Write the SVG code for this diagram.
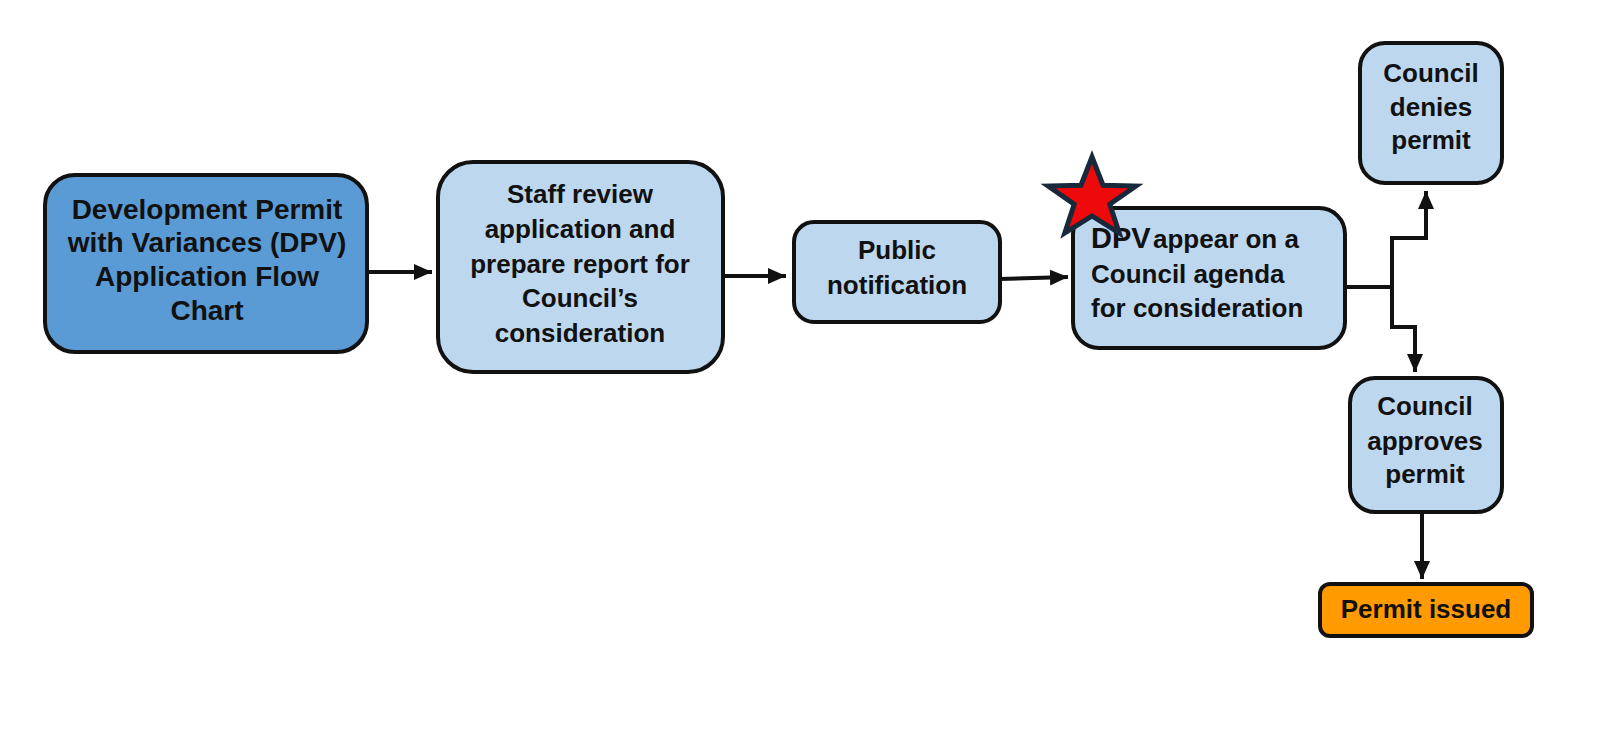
<svg xmlns="http://www.w3.org/2000/svg" width="1600" height="733" viewBox="0 0 1600 733">
<defs>
<style>
.box{fill:#bdd7ee;stroke:#111;stroke-width:4}
.main{fill:#5b9bd5;stroke:#111;stroke-width:4}
.orange{fill:#ff9a00;stroke:#111;stroke-width:4}
text{font-family:"Liberation Sans",Arial,sans-serif;font-weight:bold;fill:#111;font-size:26px}
.c{text-anchor:middle}
.conn{fill:none;stroke:#111;stroke-width:4}
</style>
<marker id="ah" markerUnits="userSpaceOnUse" markerWidth="20" markerHeight="18" refX="18" refY="9" orient="auto">
<path d="M0,1 L18,9 L0,17 z" fill="#111"/>
</marker>
</defs>
<rect width="1600" height="733" fill="#fff"/>
<g id="connectors">
<line class="conn" x1="367" y1="272" x2="432" y2="272" marker-end="url(#ah)"/>
<line class="conn" x1="723" y1="276" x2="786" y2="276" marker-end="url(#ah)"/>
<line class="conn" x1="1000" y1="279" x2="1068" y2="277" marker-end="url(#ah)"/>
<path class="conn" d="M1345,287 H1392 V238 H1426 V191" marker-end="url(#ah)"/>
<path class="conn" d="M1392,287 V327 H1415 V372" marker-end="url(#ah)"/>
<line class="conn" x1="1422" y1="512" x2="1422" y2="579" marker-end="url(#ah)"/>
</g>
<g id="n1">
<rect class="main" x="45" y="175" width="322" height="177" rx="30"/>
<text class="c" style="font-size:28px" x="207" y="219">Development Permit</text>
<text class="c" style="font-size:28px" x="207" y="252">with Variances (DPV)</text>
<text class="c" style="font-size:28px" x="207" y="286">Application Flow</text>
<text class="c" style="font-size:28px" x="207" y="320">Chart</text>
</g>
<g id="n2">
<rect class="box" x="438" y="162" width="285" height="210" rx="35"/>
<text class="c" x="580" y="203">Staff review</text>
<text class="c" x="580" y="238">application and</text>
<text class="c" x="580" y="273">prepare report for</text>
<text class="c" x="580" y="307">Council’s</text>
<text class="c" x="580" y="342">consideration</text>
</g>
<g id="n3">
<rect class="box" x="794" y="222" width="206" height="100" rx="20"/>
<text class="c" x="897" y="259">Public</text>
<text class="c" x="897" y="294">notification</text>
</g>
<g id="n4">
<rect class="box" x="1073" y="208" width="272" height="140" rx="26"/>
<text x="1091" y="248"><tspan style="font-size:29px">DPV</tspan><tspan x="1153">appear on a</tspan></text>
<text x="1091" y="283">Council agenda</text>
<text x="1091" y="317">for consideration</text>
</g>
<g id="star">
<polygon points="1092,157 1103,185.2 1135.9,186 1109.8,204.3 1119.2,233 1092,216 1064.8,233 1074.2,204.3 1048.1,186 1081,185.2" fill="#ee0a0a" stroke="#17293b" stroke-width="5" stroke-linejoin="miter"/>
</g>
<g id="n5">
<rect class="box" x="1360" y="43" width="142" height="140" rx="25"/>
<text class="c" x="1431" y="82">Council</text>
<text class="c" x="1431" y="116">denies</text>
<text class="c" x="1431" y="149">permit</text>
</g>
<g id="n6">
<rect class="box" x="1350" y="378" width="152" height="134" rx="25"/>
<text class="c" x="1425" y="415">Council</text>
<text class="c" x="1425" y="450">approves</text>
<text class="c" x="1425" y="483">permit</text>
</g>
<g id="n7">
<rect class="orange" x="1320" y="584" width="212" height="52" rx="10"/>
<text class="c" x="1426" y="618">Permit issued</text>
</g>
</svg>
